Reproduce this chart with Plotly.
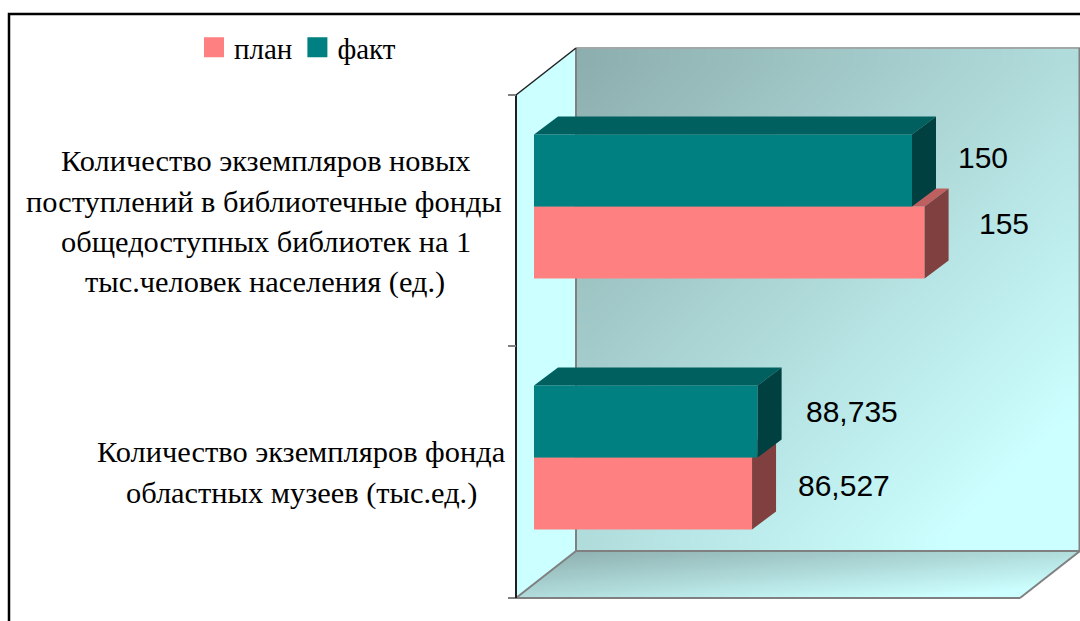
import plotly.graph_objects as go

# ---- data ----
categories = ["Количество экземпляров фонда областных музеев (тыс.ед.)",
              "Количество экземпляров новых поступлений в библиотечные фонды общедоступных библиотек на 1 тыс.человек населения (ед.)"]
plan = [86.527, 155]
fact = [88.735, 150]
plan_labels = ["86,527", "155"]
fact_labels = ["88,735", "150"]
series_names = ["план", "факт"]

# ---- style ----
W, H = 1080, 621
PX_PER_UNIT = 2.52
ZERO_PX = 534
PX_PER_CAT = 251
CAT0_PX = 457.5
BAR_W = 0.287
DX = 24 / PX_PER_UNIT
DY = 18 / PX_PER_CAT
RED, RED_TOP, RED_SIDE = "#FF8080", "#BF6060", "#804040"
TEAL, TEAL_TOP, TEAL_SIDE = "#008080", "#006060", "#004040"
WALL = "#CCFFFF"
GREY = "#808080"
SERIF = "Liberation Serif"
SANS = "Liberation Sans"

xrange_data = [(0 - ZERO_PX) / PX_PER_UNIT, (W - ZERO_PX) / PX_PER_UNIT]
yrange_data = [(CAT0_PX - H) / PX_PER_CAT, CAT0_PX / PX_PER_CAT]

fig = go.Figure()
N = 17
grid = [[(i + j) / (2 * (N - 1)) for i in range(N)] for j in range(N)]
scale = [[0, "#8EAFAF"], [0.88, WALL], [1, WALL]]


def edges(a, b):
    return [a + (b - a) * k / N for k in range(N + 1)]


def gradient(x0, x1, y0, y1):
    fig.add_trace(go.Heatmap(x=edges(x0, x1), y=edges(y0, y1), z=grid, zsmooth="best",
                             colorscale=scale, zmin=0, zmax=1, showscale=False,
                             hoverinfo="skip", xaxis="x", yaxis="y"))


def poly(xs, ys, color, ax="", line=None):
    fig.add_trace(go.Scatter(x=xs, y=ys, mode="lines", fill="toself", fillcolor=color,
                             line=line or dict(width=0, color=color), showlegend=False,
                             hoverinfo="skip", xaxis="x" + ax, yaxis="y" + ax))


def seg(xs, ys, color=GREY, width=2):
    fig.add_trace(go.Scatter(x=xs, y=ys, mode="lines", line=dict(color=color, width=width),
                             showlegend=False, hoverinfo="skip", xaxis="x", yaxis="y"))


# room: back wall, floor, left wall (pixel-scale base axes)
gradient(576, 1080, 48, 551)
gradient(516, 1080, 551, 598)
poly([1020, 1081, 1081, 1020], [598, 551, 599, 599], "white")
poly([515, 576, 576, 515, 515], [95, 48, 551, 598, 95], WALL)
seg([576, 1080], [48, 48], "#A0A8A8")
seg([576, 576], [48, 551])
seg([576, 1080], [551, 551])
seg([1079.5, 1079.5], [48, 551])
seg([516, 576], [598, 551])
seg([1020, 1080], [598, 551])
seg([508, 1020], [598, 598])
seg([516, 576], [95, 48], "#202020", 1.5)
seg([516, 516], [95, 598], "#202020", 2)
seg([508, 516], [95, 95])
seg([508, 516], [346, 346])
# outer frame
seg([9, 9, 1080], [621, 14, 14], "black", 2.5)


def series(values, offset, color, top, side, ax):
    ys = list(range(len(categories)))
    fig.add_trace(go.Bar(y=ys, x=values, orientation="h", width=BAR_W, offset=offset,
                         marker=dict(color=color, line=dict(width=0)), showlegend=False,
                         hoverinfo="skip", xaxis="x" + ax, yaxis="y" + ax))
    tx, ty, sx, sy = [], [], [], []
    for y, v in zip(ys, values):
        y0 = y + offset
        y1 = y0 + BAR_W
        tx += [0, DX, v + DX, v, 0, None]
        ty += [y1, y1 + DY, y1 + DY, y1, y1, None]
        sx += [v, v + DX, v + DX, v, v, None]
        sy += [y0, y0 + DY, y1 + DY, y1, y0, None]
    poly(tx, ty, top, ax)
    poly(sx, sy, side, ax)


series(plan, -BAR_W, RED, RED_TOP, RED_SIDE, "2")
series(fact, 0, TEAL, TEAL_TOP, TEAL_SIDE, "3")

# legend entries
for name, color in zip(series_names, [RED, TEAL]):
    fig.add_trace(go.Scatter(x=[None], y=[None], mode="markers", name=name,
                             marker=dict(symbol="square", size=16, color=color,
                                         line=dict(width=4, color=color)),
                             xaxis="x", yaxis="y"))

annotations = []
# category labels, line by line
cat_lines = [
    ("Количество экземпляров новых", 266, 161),
    ("поступлений в библиотечные фонды", 264, 202),
    ("общедоступных библиотек на 1", 265.5, 242),
    ("тыс.человек населения (ед.)", 265, 282),
    ("Количество экземпляров фонда", 301, 452),
    ("областных музеев (тыс.ед.)", 301, 493),
]
for text, px, py in cat_lines:
    annotations.append(dict(text=text, x=px, y=py, xref="x", yref="y", xanchor="center",
                            yanchor="middle", showarrow=False,
                            font=dict(family=SERIF, size=30.4, color="black")))

# value labels
for vals, labs, shifts, pys in [(plan, plan_labels, [44, 52], [485.5, 223.5]),
                                (fact, fact_labels, [46, 44], [411.5, 157.5])]:
    for v, t, s, py in zip(vals, labs, shifts, pys):
        annotations.append(dict(text=t, x=v, y=py, xref="x3", yref="y", xanchor="left",
                                yanchor="middle", xshift=s, showarrow=False,
                                font=dict(family=SANS, size=30, color="black")))

hidden = dict(visible=False, fixedrange=True)
fig.update_layout(
    width=W, height=H, autosize=False, margin=dict(l=0, r=0, t=0, b=0, pad=0),
    paper_bgcolor="white", plot_bgcolor="white",
    xaxis=dict(range=[0, W], **hidden), yaxis=dict(range=[H, 0], **hidden),
    xaxis2=dict(range=xrange_data, overlaying="x", **hidden),
    yaxis2=dict(range=yrange_data, overlaying="y", **hidden),
    xaxis3=dict(range=xrange_data, overlaying="x", **hidden),
    yaxis3=dict(range=yrange_data, overlaying="y", **hidden),
    barmode="overlay",
    annotations=annotations,
    legend=dict(orientation="h", x=194 / W, y=1 - 22 / H, xanchor="left", yanchor="top",
                bgcolor="rgba(0,0,0,0)", font=dict(family=SERIF, size=29, color="black"),
                itemclick=False, itemdoubleclick=False),
)
fig.write_html("out.html", config=dict(displayModeBar=False),
               post_script="document.body.style.margin='0';document.body.style.overflow='hidden';")
